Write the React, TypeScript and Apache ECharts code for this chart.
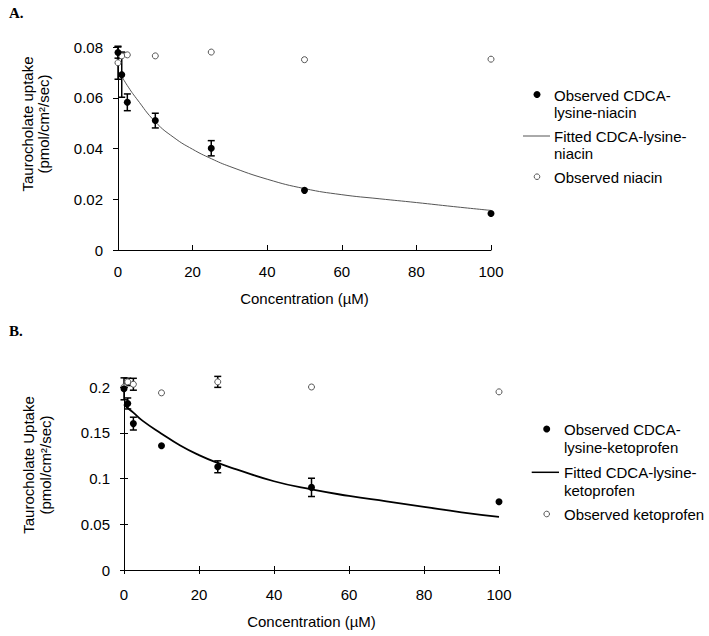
import React, { useEffect, useRef } from "react";
import * as echarts from "echarts";

// Panel A: CDCA-lysine-niacin
const concA = [0, 1, 2.5, 10, 25, 50, 100];
const cdcaNiacin = [0.0778, 0.0691, 0.0582, 0.051, 0.0401, 0.0235, 0.0144];
const cdcaNiacinErr = [0.0022, 0.0089, 0.0033, 0.0029, 0.003, 0, 0];
const niacin = [0.0738, 0.0765, 0.0769, 0.0765, 0.078, 0.075, 0.0752];
const niacinErr = [0.0065, 0, 0, 0, 0, 0, 0];
const fitXA = [1, 2.5, 5, 10, 15, 20, 25, 30, 40, 50, 60, 70, 80, 90, 100];
const fitA = [0.0685, 0.0648, 0.0596, 0.0505, 0.0443, 0.0397, 0.036, 0.0329, 0.0279, 0.0242, 0.0218, 0.0202, 0.0187, 0.0171, 0.0156];

// Panel B: CDCA-lysine-ketoprofen
const concB = [0, 1, 2.5, 10, 25, 50, 100];
const cdcaKeto = [0.198, 0.182, 0.16, 0.1357, 0.1128, 0.0903, 0.0746];
const cdcaKetoErr = [0.012, 0.006, 0.007, 0, 0.0065, 0.01, 0];
const keto = [0.2, 0.2056, 0.203, 0.1936, 0.2056, 0.2, 0.1947];
const ketoErr = [0, 0.004, 0.0065, 0, 0.006, 0, 0];
const fitXB = [0, 1, 2.5, 5, 10, 15, 20, 25, 30, 40, 50, 60, 70, 80, 90, 100];
const fitB = [0.181, 0.177, 0.172, 0.163, 0.149, 0.136, 0.1255, 0.117, 0.11, 0.097, 0.088, 0.081, 0.075, 0.069, 0.063, 0.058];

const FONT = "Liberation Sans, Arial, sans-serif";

const zip = (xs: number[], ys: number[], es?: number[]) =>
  xs.map((x, i) => (es ? [x, ys[i], es[i]] : [x, ys[i]]));

function errorBars(xi: number, yi: number, data: number[][], color: string) {
  return {
    type: "custom",
    xAxisIndex: xi,
    yAxisIndex: yi,
    z: 1,
    clip: false,
    encode: { x: 0, y: 1 },
    data,
    renderItem: (params: any, api: any) => {
      const x = api.value(0);
      const y = api.value(1);
      const e = api.value(2);
      if (!e) return null;
      const top = api.coord([x, y + e]);
      const bot = api.coord([x, y - e]);
      const cap = 3.5;
      const st = { stroke: color, lineWidth: 1.5 };
      return {
        type: "group",
        children: [
          { type: "line", shape: { x1: top[0], y1: top[1], x2: bot[0], y2: bot[1] }, style: st },
          { type: "line", shape: { x1: top[0] - cap, y1: top[1], x2: top[0] + cap, y2: top[1] }, style: st },
          { type: "line", shape: { x1: bot[0] - cap, y1: bot[1], x2: bot[0] + cap, y2: bot[1] }, style: st },
        ],
      };
    },
  };
}

export default function App() {
  const ref = useRef<HTMLDivElement>(null);
  useEffect(() => {
    if (!ref.current) return;
    const chart = echarts.init(ref.current, undefined, { renderer: "svg" });
    const axisLabel = { color: "#000", fontFamily: FONT, fontSize: 15 };
    const lineStyle = { color: "#000", width: 1 };
    const option: any = {
      animation: false,
      backgroundColor: "#fff",
      grid: [
        { left: 118, top: 47, width: 373, height: 203 },
        { left: 124, top: 387, width: 375, height: 183 },
      ],
      xAxis: [
        {
          gridIndex: 0, type: "value", min: 0, max: 100, interval: 20,
          axisLine: { lineStyle }, axisTick: { inside: true, length: 5, lineStyle },
          axisLabel: { ...axisLabel, margin: 14 }, splitLine: { show: false },
          name: "Concentration (\u00b5M)", nameLocation: "middle", nameGap: 41,
          nameTextStyle: { color: "#000", fontFamily: FONT, fontSize: 15 },
        },
        {
          gridIndex: 1, type: "value", min: 0, max: 100, interval: 20,
          axisLine: { lineStyle }, axisTick: { inside: false, length: 4, lineStyle },
          axisLabel: { ...axisLabel, margin: 17 }, splitLine: { show: false },
          name: "Concentration (\u00b5M)", nameLocation: "middle", nameGap: 44,
          nameTextStyle: { color: "#000", fontFamily: FONT, fontSize: 15 },
        },
        {
          gridIndex: 1, type: "value", min: 0, max: 100, interval: 20,
          axisLine: { show: false }, axisTick: { inside: true, length: 4, lineStyle },
          axisLabel: { show: false }, splitLine: { show: false }, position: "bottom",
        },
      ],
      yAxis: [
        {
          gridIndex: 0, type: "value", min: 0, max: 0.08, interval: 0.02,
          axisLine: { show: true, lineStyle }, axisTick: { show: true, inside: false, length: 5, lineStyle },
          axisLabel: { ...axisLabel, margin: 15 }, splitLine: { show: false },
        },
        {
          gridIndex: 1, type: "value", min: 0, max: 0.2, interval: 0.05,
          axisLine: { show: true, lineStyle }, axisTick: { show: true, inside: false, length: 4, lineStyle },
          axisLabel: { ...axisLabel, margin: 14 }, splitLine: { show: false },
        },
        {
          gridIndex: 1, type: "value", min: 0, max: 0.2, interval: 0.05, position: "left",
          axisLine: { show: false }, axisTick: { show: true, inside: true, length: 4, lineStyle },
          axisLabel: { show: false }, splitLine: { show: false },
        },
      ],
      series: [
        errorBars(0, 0, zip(concA, niacin, niacinErr), "#000"),
        errorBars(0, 0, zip(concA, cdcaNiacin, cdcaNiacinErr), "#000"),
        {
          name: "Fitted CDCA-lysine-niacin", type: "line", xAxisIndex: 0, yAxisIndex: 0,
          data: zip(fitXA, fitA), smooth: true, showSymbol: false, symbol: "none", z: 2,
          lineStyle: { color: "#555", width: 1 },
        },
        {
          name: "Observed niacin", type: "scatter", xAxisIndex: 0, yAxisIndex: 0,
          data: zip(concA, niacin), symbol: "circle", symbolSize: 6, z: 3,
          itemStyle: { color: "#fff", borderColor: "#555", borderWidth: 1, opacity: 1 },
        },
        {
          name: "Observed CDCA-lysine-niacin", type: "scatter", xAxisIndex: 0, yAxisIndex: 0,
          data: zip(concA, cdcaNiacin), symbol: "circle", symbolSize: 7, z: 4,
          itemStyle: { color: "#000", opacity: 1 },
        },
        errorBars(1, 1, zip(concB, keto, ketoErr), "#000"),
        errorBars(1, 1, zip(concB, cdcaKeto, cdcaKetoErr), "#000"),
        {
          name: "Fitted CDCA-lysine-ketoprofen", type: "line", xAxisIndex: 1, yAxisIndex: 1,
          data: zip(fitXB, fitB), smooth: true, showSymbol: false, symbol: "none", z: 2,
          lineStyle: { color: "#000", width: 1.8 },
        },
        {
          name: "Observed ketoprofen", type: "scatter", xAxisIndex: 1, yAxisIndex: 1,
          data: zip(concB, keto), symbol: "circle", symbolSize: 6, z: 3, clip: false,
          itemStyle: { color: "#fff", borderColor: "#555", borderWidth: 1, opacity: 1 },
        },
        {
          name: "Observed CDCA-lysine-ketoprofen", type: "scatter", xAxisIndex: 1, yAxisIndex: 1,
          data: zip(concB, cdcaKeto), symbol: "circle", symbolSize: 7, z: 4,
          itemStyle: { color: "#000", opacity: 1 },
        },
      ],
      graphic: [
        { type: "text", x: 9, y: 13, style: { text: "A.", font: "bold 15px 'Liberation Serif', serif", fill: "#000", verticalAlign: "middle" } },
        { type: "text", x: 9, y: 331, style: { text: "B.", font: "bold 15px 'Liberation Serif', serif", fill: "#000", verticalAlign: "middle" } },
        {
          type: "text", x: 35, y: 124, rotation: Math.PI / 2,
          style: { text: "Taurocholate uptake\n(pmol/cm\u00b2/sec)", font: `15px ${FONT}`, fill: "#000", align: "center", verticalAlign: "middle", lineHeight: 16 },
        },
        {
          type: "text", x: 36.5, y: 465, rotation: Math.PI / 2,
          style: { text: "Taurocholate Uptake\n(pmol/cm\u00b2/sec)", font: `15px ${FONT}`, fill: "#000", align: "center", verticalAlign: "middle", lineHeight: 17 },
        },
        // Legend A
        { type: "circle", shape: { cx: 537, cy: 94.5, r: 3.5 }, style: { fill: "#000" } },
        { type: "text", x: 554, y: 86.5, style: { text: "Observed CDCA-\nlysine-niacin", font: `15px ${FONT}`, fill: "#000", verticalAlign: "top", lineHeight: 17.5 } },
        { type: "line", shape: { x1: 523, y1: 136, x2: 550, y2: 136 }, style: { stroke: "#555", lineWidth: 1 } },
        { type: "text", x: 554, y: 127.5, style: { text: "Fitted CDCA-lysine-\nniacin", font: `15px ${FONT}`, fill: "#000", verticalAlign: "top", lineHeight: 17.5 } },
        { type: "circle", shape: { cx: 537, cy: 176.7, r: 2.8 }, style: { fill: "#fff", stroke: "#555", lineWidth: 1 } },
        { type: "text", x: 554, y: 168.5, style: { text: "Observed niacin", font: `15px ${FONT}`, fill: "#000", verticalAlign: "top", lineHeight: 17.5 } },
        // Legend B
        { type: "circle", shape: { cx: 546.7, cy: 429, r: 3.5 }, style: { fill: "#000" } },
        { type: "text", x: 564, y: 420.5, style: { text: "Observed CDCA-\nlysine-ketoprofen", font: `15px ${FONT}`, fill: "#000", verticalAlign: "top", lineHeight: 18 } },
        { type: "line", shape: { x1: 531.7, y1: 472.3, x2: 559, y2: 472.3 }, style: { stroke: "#000", lineWidth: 1.5 } },
        { type: "text", x: 564, y: 463.5, style: { text: "Fitted CDCA-lysine-\nketoprofen", font: `15px ${FONT}`, fill: "#000", verticalAlign: "top", lineHeight: 18 } },
        { type: "circle", shape: { cx: 546.7, cy: 514, r: 2.8 }, style: { fill: "#fff", stroke: "#555", lineWidth: 1 } },
        { type: "text", x: 564, y: 505.5, style: { text: "Observed ketoprofen", font: `15px ${FONT}`, fill: "#000", verticalAlign: "top", lineHeight: 18 } },
      ],
    };
    chart.setOption(option);
    return () => chart.dispose();
  }, []);
  return (
    <div
      ref={ref}
      style={{ position: "fixed", left: 0, top: 0, width: 709, height: 636, background: "#fff" }}
    />
  );
}
